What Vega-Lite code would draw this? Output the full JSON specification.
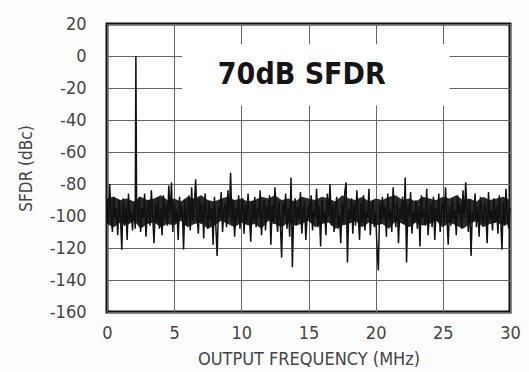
{
  "$schema": "https://vega.github.io/schema/vega-lite/v6.json",
  "width": 403,
  "height": 288,
  "autosize": {"type": "none"},
  "padding": {"left": 107, "top": 24, "right": 19, "bottom": 60},
  "background": "#fdfdfd",
  "config": {
    "view": {"stroke": "#111", "strokeWidth": 3, "fill": "white"},
    "axis": {
      "labelFont": "DejaVu Sans Condensed",
      "titleFont": "DejaVu Sans Condensed",
      "labelColor": "#444",
      "titleColor": "#444",
      "titleFontWeight": "normal",
      "gridColor": "#666",
      "gridWidth": 1,
      "gridOpacity": 1,
      "domain": false,
      "ticks": false,
      "labelOverlap": false,
      "labelBound": false,
      "labelFlush": false
    },
    "axisX": {"labelFontSize": 18, "titleFontSize": 18, "labelPadding": 12, "titlePadding": 8},
    "axisY": {"labelFontSize": 18, "titleFontSize": 17, "labelPadding": 21, "titlePadding": 14}
  },
  "datasets": {
    "noise": [
      {"f":0.0,"db":-92},{"f":0.1,"db":-104},{"f":0.2,"db":-80},{"f":0.3,"db":-99},{"f":0.4,"db":-110},{"f":0.5,"db":-88},{"f":0.6,"db":-102},{"f":0.7,"db":-95},{"f":0.8,"db":-112},{"f":0.9,"db":-90},
      {"f":1.0,"db":-100},{"f":1.1,"db":-121},{"f":1.2,"db":-89},{"f":1.3,"db":-106},{"f":1.4,"db":-94},{"f":1.5,"db":-115},{"f":1.6,"db":-86},{"f":1.7,"db":-103},{"f":1.8,"db":-97},{"f":1.9,"db":-109},
      {"f":2.0,"db":-93},{"f":2.1,"db":-108},{"f":2.15,"db":0},{"f":2.2,"db":-90},{"f":2.3,"db":-104},{"f":2.4,"db":-88},{"f":2.5,"db":-110},{"f":2.6,"db":-95},{"f":2.7,"db":-101},{"f":2.8,"db":-86},{"f":2.9,"db":-113},
      {"f":3.0,"db":-97},{"f":3.1,"db":-90},{"f":3.2,"db":-106},{"f":3.3,"db":-84},{"f":3.4,"db":-100},{"f":3.5,"db":-117},{"f":3.6,"db":-92},{"f":3.7,"db":-104},{"f":3.8,"db":-89},{"f":3.9,"db":-108},
      {"f":4.0,"db":-95},{"f":4.1,"db":-112},{"f":4.2,"db":-87},{"f":4.3,"db":-102},{"f":4.4,"db":-93},{"f":4.5,"db":-106},{"f":4.6,"db":-81},{"f":4.7,"db":-99},{"f":4.8,"db":-79},{"f":4.9,"db":-110},
      {"f":5.0,"db":-91},{"f":5.1,"db":-104},{"f":5.2,"db":-96},{"f":5.3,"db":-115},{"f":5.4,"db":-88},{"f":5.5,"db":-101},{"f":5.6,"db":-94},{"f":5.7,"db":-121},{"f":5.8,"db":-90},{"f":5.9,"db":-106},
      {"f":6.0,"db":-98},{"f":6.1,"db":-87},{"f":6.2,"db":-109},{"f":6.3,"db":-82},{"f":6.4,"db":-103},{"f":6.5,"db":-93},{"f":6.6,"db":-77},{"f":6.7,"db":-100},{"f":6.8,"db":-111},{"f":6.9,"db":-89},
      {"f":7.0,"db":-105},{"f":7.1,"db":-92},{"f":7.2,"db":-114},{"f":7.3,"db":-86},{"f":7.4,"db":-99},{"f":7.5,"db":-108},{"f":7.6,"db":-91},{"f":7.7,"db":-103},{"f":7.8,"db":-95},{"f":7.9,"db":-118},
      {"f":8.0,"db":-88},{"f":8.1,"db":-106},{"f":8.2,"db":-125},{"f":8.3,"db":-94},{"f":8.4,"db":-101},{"f":8.5,"db":-85},{"f":8.6,"db":-110},{"f":8.7,"db":-97},{"f":8.8,"db":-92},{"f":8.9,"db":-107},
      {"f":9.0,"db":-84},{"f":9.1,"db":-100},{"f":9.2,"db":-73},{"f":9.3,"db":-104},{"f":9.4,"db":-90},{"f":9.5,"db":-113},{"f":9.6,"db":-95},{"f":9.7,"db":-102},{"f":9.8,"db":-87},{"f":9.9,"db":-108},
      {"f":10.0,"db":-96},{"f":10.1,"db":-89},{"f":10.2,"db":-111},{"f":10.3,"db":-93},{"f":10.4,"db":-105},{"f":10.5,"db":-86},{"f":10.6,"db":-99},{"f":10.7,"db":-116},{"f":10.8,"db":-91},{"f":10.9,"db":-103},
      {"f":11.0,"db":-88},{"f":11.1,"db":-107},{"f":11.2,"db":-95},{"f":11.3,"db":-101},{"f":11.4,"db":-84},{"f":11.5,"db":-112},{"f":11.6,"db":-97},{"f":11.7,"db":-90},{"f":11.8,"db":-109},{"f":11.9,"db":-94},
      {"f":12.0,"db":-102},{"f":12.1,"db":-87},{"f":12.2,"db":-118},{"f":12.3,"db":-93},{"f":12.4,"db":-105},{"f":12.5,"db":-82},{"f":12.6,"db":-99},{"f":12.7,"db":-110},{"f":12.8,"db":-91},{"f":12.9,"db":-104},
      {"f":13.0,"db":-126},{"f":13.1,"db":-92},{"f":13.2,"db":-100},{"f":13.3,"db":-86},{"f":13.4,"db":-108},{"f":13.5,"db":-95},{"f":13.6,"db":-113},{"f":13.7,"db":-76},{"f":13.8,"db":-132},{"f":13.9,"db":-97},
      {"f":14.0,"db":-89},{"f":14.1,"db":-106},{"f":14.2,"db":-94},{"f":14.3,"db":-102},{"f":14.4,"db":-85},{"f":14.5,"db":-111},{"f":14.6,"db":-98},{"f":14.7,"db":-91},{"f":14.8,"db":-115},{"f":14.9,"db":-100},
      {"f":15.0,"db":-93},{"f":15.1,"db":-104},{"f":15.2,"db":-87},{"f":15.3,"db":-109},{"f":15.4,"db":-96},{"f":15.5,"db":-101},{"f":15.6,"db":-83},{"f":15.7,"db":-107},{"f":15.8,"db":-94},{"f":15.9,"db":-119},
      {"f":16.0,"db":-90},{"f":16.1,"db":-103},{"f":16.2,"db":-97},{"f":16.3,"db":-112},{"f":16.4,"db":-86},{"f":16.5,"db":-100},{"f":16.6,"db":-80},{"f":16.7,"db":-106},{"f":16.8,"db":-93},{"f":16.9,"db":-110},
      {"f":17.0,"db":-95},{"f":17.1,"db":-88},{"f":17.2,"db":-108},{"f":17.3,"db":-99},{"f":17.4,"db":-117},{"f":17.5,"db":-91},{"f":17.6,"db":-104},{"f":17.7,"db":-85},{"f":17.8,"db":-79},{"f":17.9,"db":-129},
      {"f":18.0,"db":-96},{"f":18.1,"db":-102},{"f":18.2,"db":-89},{"f":18.3,"db":-111},{"f":18.4,"db":-93},{"f":18.5,"db":-106},{"f":18.6,"db":-84},{"f":18.7,"db":-100},{"f":18.8,"db":-115},{"f":18.9,"db":-92},
      {"f":19.0,"db":-104},{"f":19.1,"db":-87},{"f":19.2,"db":-109},{"f":19.3,"db":-97},{"f":19.4,"db":-101},{"f":19.5,"db":-83},{"f":19.6,"db":-112},{"f":19.7,"db":-95},{"f":19.8,"db":-90},{"f":19.9,"db":-107},
      {"f":20.0,"db":-98},{"f":20.1,"db":-120},{"f":20.2,"db":-134},{"f":20.3,"db":-92},{"f":20.4,"db":-105},{"f":20.5,"db":-88},{"f":20.6,"db":-101},{"f":20.7,"db":-94},{"f":20.8,"db":-113},{"f":20.9,"db":-86},
      {"f":21.0,"db":-103},{"f":21.1,"db":-96},{"f":21.2,"db":-110},{"f":21.3,"db":-82},{"f":21.4,"db":-99},{"f":21.5,"db":-107},{"f":21.6,"db":-91},{"f":21.7,"db":-117},{"f":21.8,"db":-95},{"f":21.9,"db":-102},
      {"f":22.0,"db":-88},{"f":22.1,"db":-105},{"f":22.2,"db":-76},{"f":22.3,"db":-129},{"f":22.4,"db":-93},{"f":22.5,"db":-100},{"f":22.6,"db":-85},{"f":22.7,"db":-111},{"f":22.8,"db":-97},{"f":22.9,"db":-104},
      {"f":23.0,"db":-90},{"f":23.1,"db":-108},{"f":23.2,"db":-94},{"f":23.3,"db":-119},{"f":23.4,"db":-87},{"f":23.5,"db":-101},{"f":23.6,"db":-96},{"f":23.7,"db":-106},{"f":23.8,"db":-83},{"f":23.9,"db":-112},
      {"f":24.0,"db":-99},{"f":24.1,"db":-92},{"f":24.2,"db":-107},{"f":24.3,"db":-88},{"f":24.4,"db":-115},{"f":24.5,"db":-95},{"f":24.6,"db":-103},{"f":24.7,"db":-86},{"f":24.8,"db":-110},{"f":24.9,"db":-97},
      {"f":25.0,"db":-91},{"f":25.1,"db":-104},{"f":25.2,"db":-82},{"f":25.3,"db":-100},{"f":25.4,"db":-118},{"f":25.5,"db":-94},{"f":25.6,"db":-106},{"f":25.7,"db":-89},{"f":25.8,"db":-102},{"f":25.9,"db":-96},
      {"f":26.0,"db":-112},{"f":26.1,"db":-87},{"f":26.2,"db":-99},{"f":26.3,"db":-93},{"f":26.4,"db":-108},{"f":26.5,"db":-84},{"f":26.6,"db":-101},{"f":26.7,"db":-79},{"f":26.8,"db":-95},{"f":26.9,"db":-110},
      {"f":27.0,"db":-90},{"f":27.1,"db":-125},{"f":27.2,"db":-97},{"f":27.3,"db":-103},{"f":27.4,"db":-86},{"f":27.5,"db":-107},{"f":27.6,"db":-94},{"f":27.7,"db":-113},{"f":27.8,"db":-88},{"f":27.9,"db":-100},
      {"f":28.0,"db":-105},{"f":28.1,"db":-92},{"f":28.2,"db":-98},{"f":28.3,"db":-117},{"f":28.4,"db":-85},{"f":28.5,"db":-102},{"f":28.6,"db":-96},{"f":28.7,"db":-109},{"f":28.8,"db":-89},{"f":28.9,"db":-104},
      {"f":29.0,"db":-94},{"f":29.1,"db":-111},{"f":29.2,"db":-87},{"f":29.3,"db":-100},{"f":29.4,"db":-121},{"f":29.5,"db":-91},{"f":29.6,"db":-106},{"f":29.7,"db":-83},{"f":29.8,"db":-99},{"f":29.9,"db":-108},
      {"f":30.0,"db":-95}
    ],
    "core": [
      {"f":0.0,"hi":-89,"lo":-105},{"f":0.5,"hi":-88,"lo":-107},{"f":1.0,"hi":-90,"lo":-104},{"f":1.5,"hi":-89,"lo":-106},{"f":2.0,"hi":-91,"lo":-103},{"f":2.5,"hi":-88,"lo":-108},
      {"f":3.0,"hi":-90,"lo":-105},{"f":3.5,"hi":-89,"lo":-104},{"f":4.0,"hi":-87,"lo":-107},{"f":4.5,"hi":-90,"lo":-105},{"f":5.0,"hi":-89,"lo":-106},{"f":5.5,"hi":-91,"lo":-103},
      {"f":6.0,"hi":-88,"lo":-107},{"f":6.5,"hi":-89,"lo":-105},{"f":7.0,"hi":-87,"lo":-104},{"f":7.5,"hi":-90,"lo":-108},{"f":8.0,"hi":-91,"lo":-106},{"f":8.5,"hi":-89,"lo":-103},
      {"f":9.0,"hi":-88,"lo":-105},{"f":9.5,"hi":-90,"lo":-107},{"f":10.0,"hi":-89,"lo":-104},{"f":10.5,"hi":-91,"lo":-106},{"f":11.0,"hi":-90,"lo":-105},{"f":11.5,"hi":-88,"lo":-108},
      {"f":12.0,"hi":-89,"lo":-103},{"f":12.5,"hi":-87,"lo":-105},{"f":13.0,"hi":-90,"lo":-107},{"f":13.5,"hi":-89,"lo":-104},{"f":14.0,"hi":-91,"lo":-106},{"f":14.5,"hi":-88,"lo":-105},
      {"f":15.0,"hi":-89,"lo":-103},{"f":15.5,"hi":-90,"lo":-107},{"f":16.0,"hi":-88,"lo":-105},{"f":16.5,"hi":-89,"lo":-104},{"f":17.0,"hi":-91,"lo":-108},{"f":17.5,"hi":-87,"lo":-106},
      {"f":18.0,"hi":-89,"lo":-105},{"f":18.5,"hi":-90,"lo":-103},{"f":19.0,"hi":-88,"lo":-107},{"f":19.5,"hi":-91,"lo":-104},{"f":20.0,"hi":-89,"lo":-106},{"f":20.5,"hi":-90,"lo":-105},
      {"f":21.0,"hi":-88,"lo":-108},{"f":21.5,"hi":-87,"lo":-103},{"f":22.0,"hi":-90,"lo":-105},{"f":22.5,"hi":-89,"lo":-107},{"f":23.0,"hi":-91,"lo":-104},{"f":23.5,"hi":-88,"lo":-106},
      {"f":24.0,"hi":-89,"lo":-105},{"f":24.5,"hi":-90,"lo":-103},{"f":25.0,"hi":-88,"lo":-107},{"f":25.5,"hi":-89,"lo":-104},{"f":26.0,"hi":-87,"lo":-106},{"f":26.5,"hi":-90,"lo":-108},
      {"f":27.0,"hi":-89,"lo":-105},{"f":27.5,"hi":-91,"lo":-103},{"f":28.0,"hi":-88,"lo":-107},{"f":28.5,"hi":-90,"lo":-105},{"f":29.0,"hi":-89,"lo":-104},{"f":29.5,"hi":-88,"lo":-106},
      {"f":30.0,"hi":-90,"lo":-105}
    ],
    "label": [{"text": "70dB SFDR"}]
  },
  "layer": [
    {
      "data": {"name": "label"},
      "mark": {"type": "rect", "fill": "white", "stroke": null},
      "encoding": {
        "x": {"datum": 5.6, "type": "quantitative", "scale": {"domain": [0, 30], "nice": false, "zero": false},
          "axis": {"values": [0, 5, 10, 15, 20, 25, 30], "title": "OUTPUT FREQUENCY (MHz)", "grid": true}},
        "x2": {"datum": 25.5},
        "y": {"datum": 7.5, "type": "quantitative", "scale": {"domain": [-160, 20], "nice": false, "zero": false},
          "axis": {"values": [-160, -140, -120, -100, -80, -60, -40, -20, 0, 20], "labelExpr": "replace(datum.label, '\u2212', '-')", "title": "SFDR (dBc)", "grid": true}},
        "y2": {"datum": -31}
      }
    },
    {
      "data": {"name": "core"},
      "mark": {"type": "area", "color": "#181818", "opacity": 0.92, "interpolate": "linear"},
      "encoding": {
        "x": {"field": "f", "type": "quantitative",
          "axis": {"values": [0, 5, 10, 15, 20, 25, 30], "title": "OUTPUT FREQUENCY (MHz)", "grid": true}},
        "y": {"field": "hi", "type": "quantitative",
          "axis": {"values": [-160, -140, -120, -100, -80, -60, -40, -20, 0, 20], "labelExpr": "replace(datum.label, '\u2212', '-')", "title": "SFDR (dBc)", "grid": true}},
        "y2": {"field": "lo"}
      }
    },
    {
      "data": {"name": "noise"},
      "mark": {"type": "line", "color": "#111", "strokeWidth": 1.5, "interpolate": "linear"},
      "encoding": {
        "x": {"field": "f", "type": "quantitative",
          "axis": {"values": [0, 5, 10, 15, 20, 25, 30], "title": "OUTPUT FREQUENCY (MHz)", "grid": true}},
        "y": {"field": "db", "type": "quantitative",
          "axis": {"values": [-160, -140, -120, -100, -80, -60, -40, -20, 0, 20], "labelExpr": "replace(datum.label, '\u2212', '-')", "title": "SFDR (dBc)", "grid": true}}
      }
    },
    {
      "data": {"name": "label"},
      "mark": {"type": "text", "font": "DejaVu Sans Condensed", "fontWeight": "bold", "fontSize": 30, "color": "#151515", "align": "center", "baseline": "middle"},
      "encoding": {
        "text": {"field": "text"},
        "x": {"datum": 14.5, "type": "quantitative",
          "axis": {"values": [0, 5, 10, 15, 20, 25, 30], "title": "OUTPUT FREQUENCY (MHz)", "grid": true}},
        "y": {"datum": -12, "type": "quantitative",
          "axis": {"values": [-160, -140, -120, -100, -80, -60, -40, -20, 0, 20], "labelExpr": "replace(datum.label, '\u2212', '-')", "title": "SFDR (dBc)", "grid": true}}
      }
    }
  ]
}
